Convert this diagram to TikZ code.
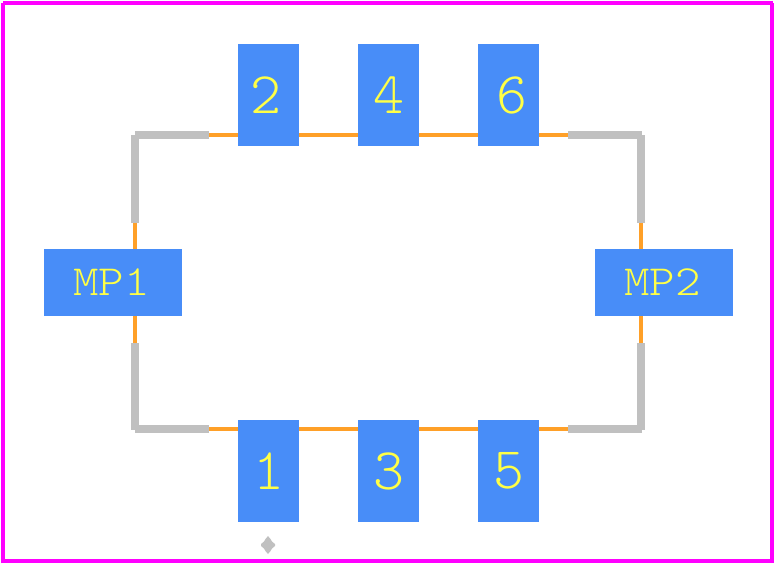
\documentclass[tikz,border=0pt]{standalone}
\usepackage{fontspec}
\newfontfamily\padfont{Latin Modern Mono Light}
\newfontfamily\mpfont[FakeStretch=1.13]{Latin Modern Mono Light}
\definecolor{padblue}{RGB}{72,141,248}
\definecolor{padtext}{RGB}{255,255,70}
\definecolor{silk}{RGB}{192,192,192}
\definecolor{fab}{RGB}{255,160,40}
\definecolor{edge}{RGB}{255,0,255}
\tikzset{
  pad/.style={fill=padblue,draw=none,inner sep=0pt,outer sep=0pt,text=padtext},
  tallpad/.style={pad,minimum width=61pt,minimum height=102pt,font=\padfont\fontsize{59}{59}\selectfont},
  widepad/.style={pad,minimum width=138pt,minimum height=67pt,font=\mpfont\fontsize{43}{43}\selectfont},
  silkline/.style={draw=silk,line width=8pt},
  fabline/.style={draw=fab,line width=3.5pt},
  outline/.style={draw=edge,line width=4pt}
}
\begin{document}
\begin{tikzpicture}[x=1pt,y=-1pt]
\useasboundingbox (0,0) rectangle (776,565);
\draw[outline] (3,3) -- (773,3);
\draw[outline] (772,3) -- (772,563);
\draw[outline] (773,561) -- (3,561);
\draw[outline] (3,563) -- (3,3);
\draw[fabline] (135,215) -- (135,350);
\draw[fabline] (641,215) -- (641,350);
\draw[fabline] (200,135) -- (577,135);
\draw[fabline] (200,429) -- (577,429);
\draw[silkline] (135,223) -- (135,135);
\draw[silkline] (135,135) -- (209,135);
\draw[silkline] (641,223) -- (641,135);
\draw[silkline] (642,135) -- (568,135);
\draw[silkline] (135,343) -- (135,430);
\draw[silkline] (135,429) -- (209,429);
\draw[silkline] (641,343) -- (641,430);
\draw[silkline] (642,429) -- (568,429);
\node[tallpad] (p2) at (268.5,95) {\hspace*{-5pt}2};
\node[tallpad] (p4) at (388.5,95) {4};
\node[tallpad] (p6) at (508.5,95) {\hspace*{6pt}6};
\node[tallpad] (p1) at (268.5,471) {1};
\node[tallpad] (p3) at (388.5,471) {3};
\node[tallpad] (p5) at (508.5,471) {5};
\node[widepad] (mp1) at (113,282.5) {\hspace*{-3pt}\raisebox{-2.5pt}{MP1}};
\node[widepad] (mp2) at (664,282.5) {\hspace*{-3pt}\raisebox{-2.5pt}{MP2}};
\fill[silk] (268,536) -- (270.5,539) -- (272,541.5) -- (275,544) -- (275,546) -- (272,548.5) -- (270.5,551) -- (268,554) -- (265.5,551) -- (264,548.5) -- (261,546) -- (261,544) -- (264,541.5) -- (265.5,539) -- cycle;
\end{tikzpicture}
\end{document}
